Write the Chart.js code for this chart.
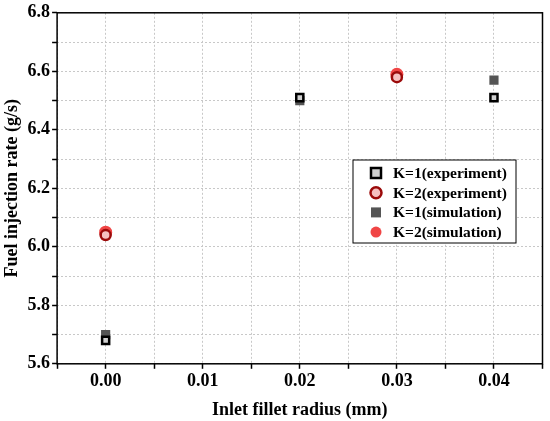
<!DOCTYPE html>
<html>
<head>
<meta charset="utf-8">
<script src="https://cdn.jsdelivr.net/npm/chart.js@4.4.0/dist/chart.umd.min.js"></script>
<style>
  body { margin: 0; background: #fff; }
  #wrap { width: 550px; height: 421px; position: relative; }
</style>
</head>
<body>
<div id="wrap"><canvas id="fuelChart"></canvas></div>
<script>
// Data
const radius = [0.00, 0.02, 0.03, 0.04];
const k1Experiment = [5.68, 6.51, null, 6.51];
const k2Experiment = [6.04, null, 6.58, null];
const k1Simulation = [5.70, 6.50, null, 6.57];
const k2Simulation = [6.05, null, 6.59, null];
const seriesLabels = ['K=1(experiment)', 'K=2(experiment)', 'K=1(simulation)', 'K=2(simulation)'];

function toPoints(values) {
    return radius.map((r, i) => ({ x: r, y: values[i] })).filter(p => p.y !== null);
}

const FONT = "'Liberation Serif', 'Times New Roman', serif";

// Frame around the plot + legend box inside it
const framePlugin = {
    id: 'frame',
    afterDraw(chart) {
        const { ctx, chartArea: a } = chart;
        ctx.save();
        ctx.strokeStyle = '#000';
        ctx.lineWidth = 1.5;
        ctx.strokeRect(a.left, a.top, a.right - a.left, a.bottom - a.top);

        // legend
        const bx = 353, by = 160, bw = 163, bh = 83;
        ctx.fillStyle = '#fff';
        ctx.fillRect(bx, by, bw, bh);
        ctx.lineWidth = 1;
        ctx.strokeRect(bx, by, bw, bh);
        ctx.font = 'bold 15.5px ' + FONT;
        ctx.textBaseline = 'middle';
        chart.data.datasets.forEach((ds, i) => {
            const cy = by + 13 + i * 19.7;
            const cx = bx + 23;
            ctx.fillStyle = ds.backgroundColor;
            ctx.strokeStyle = ds.borderColor;
            ctx.lineWidth = ds.borderWidth;
            ctx.beginPath();
            if (ds.pointStyle === 'rect') {
                ctx.rect(cx - 5, cy - 5, 10, 10);
            } else {
                ctx.arc(cx, cy, 5.5, 0, Math.PI * 2);
            }
            ctx.fill();
            if (ds.borderWidth > 0) ctx.stroke();
            ctx.fillStyle = '#000';
            ctx.textAlign = 'left';
            ctx.fillText(ds.label, bx + 40, cy + 1);
        });
        ctx.restore();
    }
};

const ctx = document.getElementById('fuelChart').getContext('2d');
const fuelChart = new Chart(ctx, {
    type: 'scatter',
    data: {
        datasets: [
            {
                label: seriesLabels[0],
                data: toPoints(k1Experiment),
                pointStyle: 'rect',
                pointRadius: 5,
                backgroundColor: '#d0d0d0',
                borderColor: '#000',
                borderWidth: 2.5
            },
            {
                label: seriesLabels[1],
                data: toPoints(k2Experiment),
                pointStyle: 'circle',
                pointRadius: 5,
                backgroundColor: '#f6c0c0',
                borderColor: '#9b0a0a',
                borderWidth: 2.5
            },
            {
                label: seriesLabels[2],
                data: toPoints(k1Simulation),
                pointStyle: 'rect',
                pointRadius: 6.5,
                backgroundColor: '#555',
                borderColor: '#555',
                borderWidth: 0
            },
            {
                label: seriesLabels[3],
                data: toPoints(k2Simulation),
                pointStyle: 'circle',
                pointRadius: 6.5,
                backgroundColor: '#f04545',
                borderColor: '#f04545',
                borderWidth: 0
            }
        ]
    },
    options: {
        responsive: true,
        maintainAspectRatio: false,
        animation: false,
        layout: { padding: { top: 0, right: 4, left: 0, bottom: 0 } },
        plugins: {
            legend: { display: false },
            tooltip: { enabled: false }
        },
        scales: {
            x: {
                type: 'linear',
                min: -0.005,
                max: 0.045,
                grid: { color: '#c8c8c8', tickColor: '#000', tickLength: 5, tickWidth: 1.5 },
                border: { display: false, dash: [2, 2] },
                ticks: {
                    stepSize: 0.005,
                    color: '#000',
                    font: { family: FONT, size: 18, weight: 'bold' },
                    padding: 2,
                    maxRotation: 0,
                    autoSkip: false,
                    callback: v => {
                        const r = Math.round(v * 1000);
                        return (r % 10 === 0 && r >= 0) ? (r / 1000).toFixed(2) : '';
                    }
                },
                title: {
                    display: true,
                    text: 'Inlet fillet radius (mm)',
                    color: '#000',
                    font: { family: FONT, size: 18, weight: 'bold' },
                    padding: { top: 5, bottom: 0 }
                }
            },
            y: {
                min: 5.6,
                max: 6.8,
                grid: { color: '#c8c8c8', tickColor: '#000', tickLength: 5, tickWidth: 1.5 },
                border: { display: false, dash: [2, 2] },
                ticks: {
                    stepSize: 0.1,
                    color: '#000',
                    font: { family: FONT, size: 18, weight: 'bold' },
                    padding: 2,
                    autoSkip: false,
                    callback: v => {
                        const r = Math.round(v * 10);
                        return r % 2 === 0 ? (r / 10).toFixed(1) : '';
                    }
                },
                title: {
                    display: true,
                    text: 'Fuel injection rate (g/s)',
                    color: '#000',
                    font: { family: FONT, size: 18, weight: 'bold' },
                    padding: { top: 2, bottom: 2 }
                }
            }
        }
    },
    plugins: [framePlugin]
});
</script>
</body>
</html>
